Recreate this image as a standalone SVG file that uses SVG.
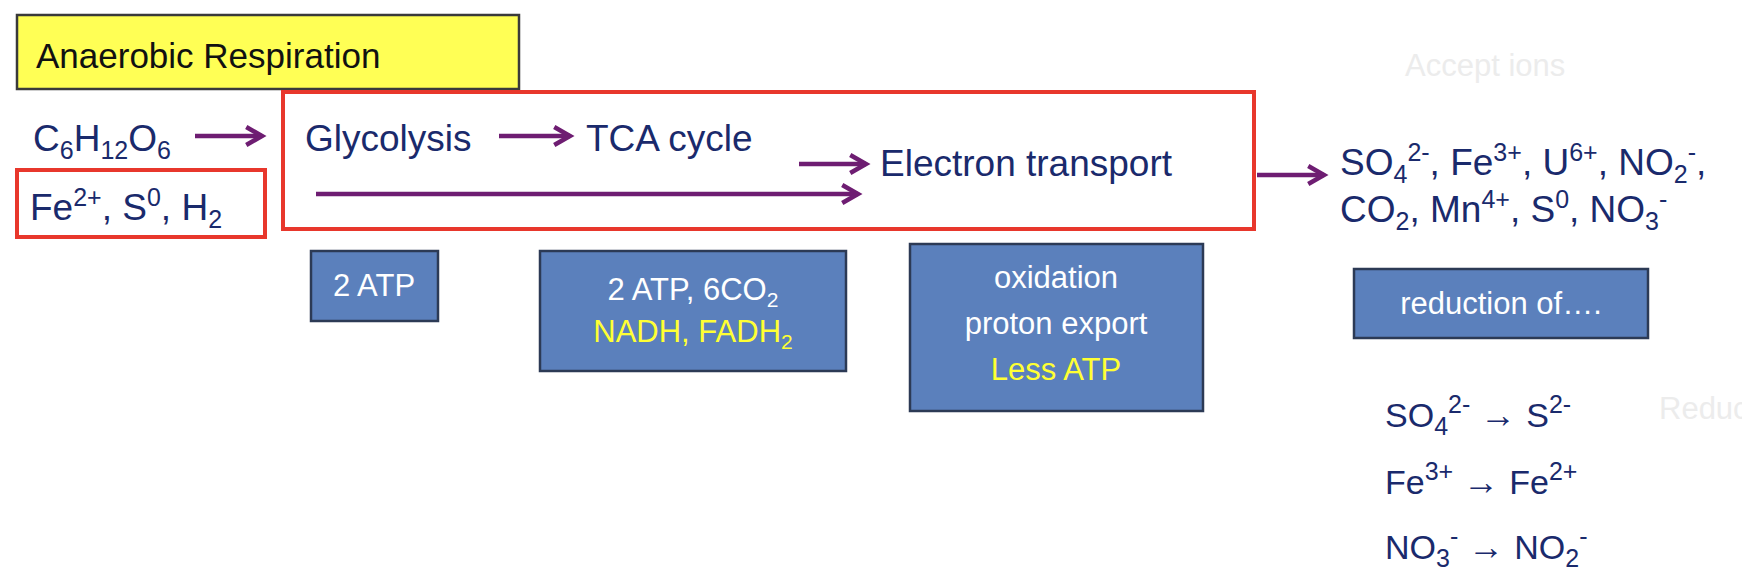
<svg xmlns="http://www.w3.org/2000/svg" width="1742" height="584" viewBox="0 0 1742 584">
<defs>
<style>
text{font-family:"Liberation Sans",Arial,sans-serif;fill:#1a2a6c;font-size:37px}
.w{fill:#fff;font-size:31px}
.y{fill:#ffff33;font-size:31px}
.blue{fill:#5b80bc;stroke:#2c3a55;stroke-width:2.5}
.red{fill:#fff;stroke:#e8372c;stroke-width:4}
.arr{stroke:#6e1d72;stroke-width:4.5;fill:none;marker-end:url(#ah)}
.s{font-size:25px}
.g{fill:#ececec}
.ar{font-weight:bold;font-size:36px}
</style>
<marker id="ah" viewBox="0 0 10 10" refX="8" refY="5" markerWidth="5" markerHeight="5" orient="auto" markerUnits="strokeWidth"><path d="M1,1 L8,5 L1,9" fill="none" stroke="#6e1d72" stroke-width="2"/></marker>
</defs>
<rect width="1742" height="584" fill="#fff"/>
<g id="title"><rect x="17" y="15" width="502" height="74" fill="#ffff55" stroke="#3a3a3a" stroke-width="2.5"/>
<text x="36" y="68" style="font-size:35px;fill:#111">Anaerobic Respiration</text></g>
<g id="main"><rect class="red" x="283" y="92" width="971" height="137"/>
<text x="305" y="151">Glycolysis</text>
<text x="586" y="151">TCA cycle</text>
<text x="880" y="176">Electron transport</text></g>
<g id="glucose"><text x="33" y="151">C<tspan class="s" dy="8">6</tspan><tspan dy="-8">H</tspan><tspan class="s" dy="8">12</tspan><tspan dy="-8">O</tspan><tspan class="s" dy="8">6</tspan></text></g>
<g id="donors"><rect class="red" x="17" y="170" width="248" height="67"/>
<text x="30" y="220">Fe<tspan class="s" dy="-14">2+</tspan><tspan dy="14">, S</tspan><tspan class="s" dy="-14">0</tspan><tspan dy="14">, H</tspan><tspan class="s" dy="8">2</tspan></text></g>
<g id="acceptors">
<text x="1340" y="175">SO<tspan class="s" dy="8">4</tspan><tspan class="s" dy="-22">2-</tspan><tspan dy="14">, Fe</tspan><tspan class="s" dy="-14">3+</tspan><tspan dy="14">, U</tspan><tspan class="s" dy="-14">6+</tspan><tspan dy="14">, NO</tspan><tspan class="s" dy="8">2</tspan><tspan class="s" dy="-22">-</tspan><tspan dy="14">,</tspan></text>
<text x="1340" y="222">CO<tspan class="s" dy="8">2</tspan><tspan dy="-8">, Mn</tspan><tspan class="s" dy="-14">4+</tspan><tspan dy="14">, S</tspan><tspan class="s" dy="-14">0</tspan><tspan dy="14">, NO</tspan><tspan class="s" dy="8">3</tspan><tspan class="s" dy="-22">-</tspan></text>
<text class="g" x="1405" y="76" style="font-size:31px">Accept ions</text>
</g>
<g id="box1"><rect class="blue" x="311" y="251" width="127" height="70"/><text class="w" x="374" y="296" text-anchor="middle">2 ATP</text></g>
<g id="box2"><rect class="blue" x="540" y="251" width="306" height="120"/>
<text class="w" x="693" y="300" text-anchor="middle">2 ATP, 6CO<tspan style="font-size:21px" dy="7">2</tspan></text>
<text class="y" x="693" y="342" text-anchor="middle">NADH, FADH<tspan style="font-size:21px" dy="7">2</tspan></text></g>
<g id="box3"><rect class="blue" x="910" y="244" width="293" height="167"/>
<text class="w" x="1056" y="288" text-anchor="middle">oxidation</text>
<text class="w" x="1056" y="334" text-anchor="middle">proton export</text>
<text class="y" x="1056" y="380" text-anchor="middle">Less ATP</text></g>
<g id="box4"><rect class="blue" x="1354" y="269" width="294" height="69"/><text class="w" x="1501" y="314" text-anchor="middle">reduction of….</text></g>
<g id="reductions">
<text x="1385" y="427" style="font-size:34px">SO<tspan class="s" dy="8">4</tspan><tspan class="s" dy="-22">2-</tspan><tspan class="ar" dy="14"> → </tspan><tspan>S</tspan><tspan class="s" dy="-14">2-</tspan></text>
<text x="1385" y="494" style="font-size:34px">Fe<tspan class="s" dy="-14">3+</tspan><tspan class="ar" dy="14"> → </tspan><tspan>Fe</tspan><tspan class="s" dy="-14">2+</tspan></text>
<text x="1385" y="559" style="font-size:34px">NO<tspan class="s" dy="8">3</tspan><tspan class="s" dy="-22">-</tspan><tspan class="ar" dy="14"> → </tspan><tspan>NO</tspan><tspan class="s" dy="8">2</tspan><tspan class="s" dy="-22">-</tspan></text>
<text class="g" x="1659" y="419" style="font-size:31px">Reduc</text>
</g>
<g id="connectors">
<path class="arr" d="M195,136 H262"/>
<path class="arr" d="M499,136 H570"/>
<path class="arr" d="M799,164 H866"/>
<path class="arr" d="M316,194 H858"/>
<path class="arr" d="M1257,175 H1324"/>
</g>
</svg>
